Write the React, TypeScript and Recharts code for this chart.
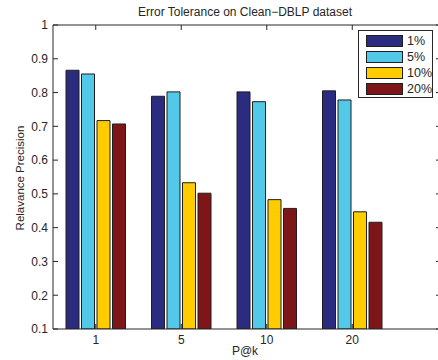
import { BarChart, Bar, XAxis, YAxis, Legend } from "recharts";

const categories = ["1", "5", "10", "20"];
const p1 = [0.866, 0.789, 0.802, 0.805];
const p5 = [0.855, 0.802, 0.773, 0.778];
const p10 = [0.717, 0.533, 0.483, 0.447];
const p20 = [0.707, 0.502, 0.457, 0.416];
const yTicks = [0.1, 0.2, 0.3, 0.4, 0.5, 0.6, 0.7, 0.8, 0.9, 1];

const seriesKeys = ["p1", "p5", "p10", "p20"];
const seriesNames = ["1%", "5%", "10%", "20%"];
const seriesColors = ["#2b2b7f", "#52c9e9", "#ffcc00", "#7d1519"];

const FONT = '"Liberation Sans", Arial, Helvetica, sans-serif';
const INK = "#262626";

const data = categories.map((k, i) => ({ k, p1: p1[i], p5: p5[i], p10: p10[i], p20: p20[i] }));

const fmt = (v: number) => (v === 1 ? "1" : v.toFixed(1));

function LeftTick(props: any) {
  const { x, y, payload } = props;
  return (
    <g>
      <text x={x - 5} y={y} dy="0.36em" textAnchor="end" fontSize={12} fill={INK} fontFamily={FONT}>
        {fmt(payload.value)}
      </text>
      <line x1={x} x2={x + 5} y1={y} y2={y} stroke={INK} />
    </g>
  );
}

function RightTick(props: any) {
  const { x, y } = props;
  return <line x1={x - 5} x2={x} y1={y} y2={y} stroke={INK} />;
}

function BottomTick(props: any) {
  const { x, y, payload } = props;
  return (
    <g>
      <text x={x} y={y + 15} textAnchor="middle" fontSize={12} fill={INK} fontFamily={FONT}>
        {payload.value}
      </text>
      <line x1={x} x2={x} y1={y - 5} y2={y} stroke={INK} />
    </g>
  );
}

function TopTick(props: any) {
  const { x, y } = props;
  return <line x1={x} x2={x} y1={y} y2={y + 5} stroke={INK} />;
}

// legend drawn in series order, not sorted
function LegendBox() {
  return (
    <div
      style={{
        width: 75,
        height: 68,
        border: `1px solid ${INK}`,
        background: "#fff",
        position: "relative",
        fontFamily: FONT,
        fontSize: 12.5,
        color: INK,
        boxSizing: "border-box",
      }}
    >
      {seriesNames.map((name, i) => (
        <div key={name} style={{ position: "absolute", left: 7, top: 4 + i * 16, height: 12, display: "flex", alignItems: "center" }}>
          <div style={{ width: 35, height: 10, background: seriesColors[i], border: "1px solid #1f1f1f" }} />
          <span style={{ marginLeft: 4 }}>{name}</span>
        </div>
      ))}
    </div>
  );
}

export default function App() {
  return (
    <div style={{ position: "absolute", left: 0, top: 0, width: 438, height: 360, overflow: "hidden", background: "#fff" }}>
      <BarChart
        width={460}
        height={360}
        data={data}
        margin={{ top: 0, right: 0, bottom: 0, left: 0 }}
        barSize={13}
        barGap={2.5}
      >
        <XAxis
          dataKey="k"
          xAxisId="bottom"
          orientation="bottom"
          height={31}
          padding={{ left: 0, right: 46 }}
          axisLine={{ stroke: INK }}
          tickLine={false}
          tickSize={0}
          tickMargin={0}
          tick={<BottomTick />}
          interval={0}
        />
        <XAxis
          dataKey="k"
          xAxisId="top"
          orientation="top"
          height={25}
          padding={{ left: 0, right: 46 }}
          axisLine={{ stroke: INK }}
          tickLine={false}
          tickSize={0}
          tickMargin={0}
          tick={<TopTick />}
          interval={0}
        />
        <YAxis
          yAxisId="left"
          orientation="left"
          width={53}
          domain={[0.1, 1]}
          ticks={yTicks}
          allowDataOverflow
          axisLine={{ stroke: INK }}
          tickLine={false}
          tickSize={0}
          tickMargin={0}
          tick={<LeftTick />}
          interval={0}
        />
        <YAxis
          yAxisId="right"
          orientation="right"
          width={19}
          domain={[0.1, 1]}
          ticks={yTicks}
          allowDataOverflow
          axisLine={{ stroke: INK }}
          tickLine={false}
          tickSize={0}
          tickMargin={0}
          tick={<RightTick />}
          interval={0}
        />
        <Legend
          align="center"
          verticalAlign="middle"
          wrapperStyle={{ top: 30, left: 358, width: 75, height: 68 }}
          content={<LegendBox />}
        />
        {seriesKeys.map((key, i) => (
          <Bar
            key={key}
            dataKey={key}
            name={seriesNames[i]}
            xAxisId="bottom"
            yAxisId="left"
            fill={seriesColors[i]}
            stroke="#1f1f1f"
            strokeWidth={1}
            isAnimationActive={false}
          />
        ))}
      </BarChart>
      <svg width={438} height={360} style={{ position: "absolute", left: 0, top: 0, pointerEvents: "none" }}>
        <text x={245} y={16} textAnchor="middle" fontSize={12} fill={INK} fontFamily={FONT}>
          Error Tolerance on Clean−DBLP dataset
        </text>
        <text x={245} y={355} textAnchor="middle" fontSize={12} fill={INK} fontFamily={FONT}>
          P@k
        </text>
        <text
          x={0}
          y={0}
          transform="translate(24,178) rotate(-90)"
          textAnchor="middle"
          fontSize={11.5}
          fill={INK}
          fontFamily={FONT}
        >
          Relavance Precision
        </text>
      </svg>
    </div>
  );
}
